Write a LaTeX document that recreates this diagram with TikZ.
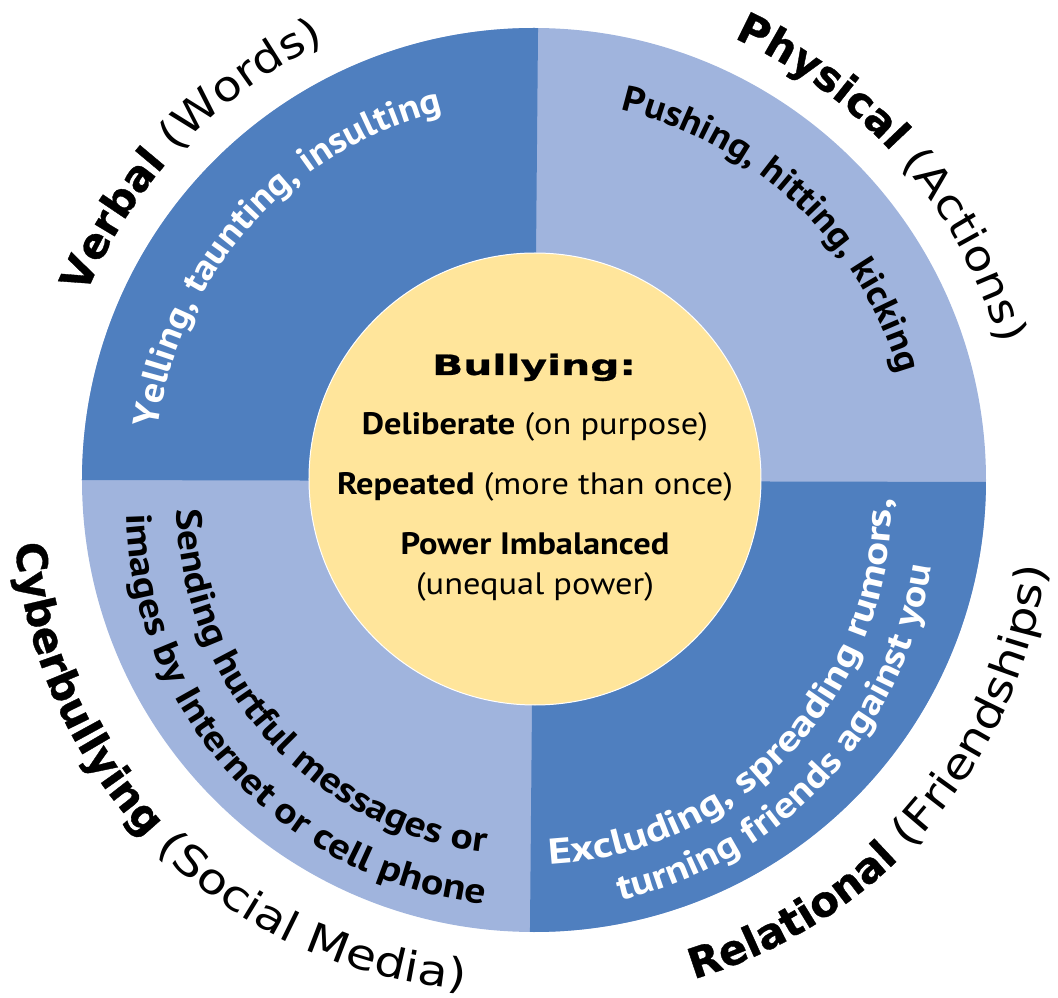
\documentclass[tikz,border=0pt]{standalone}
\usepackage{fontspec}
\setmainfont{PT Sans}
\newfontfamily\Etendue{DejaVu Sans}
\newfontfamily\Corps{PT Sans}
\newfontfamily\Centre{PT Sans}[FakeStretch=1.11]
\usetikzlibrary{decorations.text}
\definecolor{BleuFonce}{RGB}{79,127,191}
\definecolor{BleuClair}{RGB}{160,180,221}
\definecolor{Jaune}{RGB}{255,229,155}
\tikzset{
  arctexte/.style={decorate,decoration={text along path,text align=center,text={#1}}},
  ligne/.style={anchor=base,font=\Centre\fontsize{31}{37}\selectfont}
}
\begin{document}
\begin{tikzpicture}[x=1pt,y=1pt]
\useasboundingbox (-534,-518) rectangle (524,480);

    %Rayon du disque et du cercle central
    \def \Rext {452}
    \def \Rint {226}
    %Polices des textes courbes (argument : etirement)
    \def \Titre {\Etendue\bfseries\fontsize{42}{50}\selectfont\addfontfeatures{FakeBold=0.8}}
    \def \Sous #1{\Etendue\mdseries\fontsize{42}{50}\selectfont\addfontfeatures{FakeStretch=#1}}
    \def \Gras #1{\Corps\bfseries\fontsize{36}{42}\selectfont\addfontfeatures{FakeStretch=#1}}

% disque et quartiers
\fill[BleuClair] (0,0) circle (\Rext);
\begin{scope}
    \clip (0,0) circle (\Rext);
    \fill[BleuFonce] (0,-1) -- (4.2,470) -- (-470,470) -- (-470,0) -- cycle;
    \fill[BleuFonce] (0,-1) -- (470,-2) -- (470,-470) -- (-4.2,-470) -- cycle;
\end{scope}

% cercle central
\fill[Jaune,draw=white,line width=1pt] (1,1) circle (\Rint);
\node[anchor=base] (titre) at (0,105)
    {\Etendue\bfseries\fontsize{28}{34}\selectfont\addfontfeatures{FakeStretch=1.46,FakeBold=0.8}Bullying:};
\node[ligne] (delib) at (1,45) {\textbf{Deliberate} (on purpose)};
\node[ligne] (repet) at (1,-15) {\textbf{Repeated} (more than once)};
\node[ligne] (pouvoir) at (1,-75) {\textbf{Power Imbalanced}};
\node[ligne] (inegal) at (1,-115) {(unequal power)};

% textes des quartiers (haut : sens horaire)
\path[arctexte={|\Gras{1.10}|Yelling, taunting, insulting},decoration={text color=white}]
    (213:380) arc[start angle=213,end angle=63,radius=380];
\path[arctexte={|\Gras{1.08}|Pushing, hitting, kicking}]
    (121.5:380) arc[start angle=121.5,end angle=-28.5,radius=380];

% textes des quartiers (bas : sens trigo)
\begin{scope}[shift={(-7,-25)}]
    \path[arctexte={|\Gras{1.15}|Sending hurtful messages or}]
        (147:350) arc[start angle=147,end angle=297,radius=350];
    \path[arctexte={|\Gras{1.16}|images by Internet or cell phone}]
        (147.6:401) arc[start angle=147.6,end angle=297.6,radius=401];
\end{scope}
\begin{scope}[shift={(-3,-25)}]
    \path[arctexte={|\Gras{1.24}|Excluding, spreading rumors,},decoration={text color=white}]
        (242:360) arc[start angle=242,end angle=392,radius=360];
    \path[arctexte={|\Gras{1.17}|turning friends against you},decoration={text color=white}]
        (242:405) arc[start angle=242,end angle=392,radius=405];
\end{scope}

% titres autour du disque
\path[arctexte={|\Titre|Verbal |\Sous{1.12}|(Words)}]
    (206.5:485) arc[start angle=206.5,end angle=66.5,radius=485];
\path[arctexte={|\Titre|Physical |\Sous{1.12}|(Actions)}]
    (110.9:485) arc[start angle=110.9,end angle=-29.1,radius=485];
\begin{scope}[shift={(-36,-26)}]
    \path[arctexte={|\Titre|Cyberbullying |\Sous{1.17}|(Social Media)}]
        (155.3:484) arc[start angle=155.3,end angle=295.3,radius=484];
\end{scope}
\begin{scope}[shift={(17,-20)}]
    \path[arctexte={|\Titre|Relational |\Sous{1.17}|(Friendships)}]
        (249.5:500) arc[start angle=249.5,end angle=389.5,radius=500];
\end{scope}

\end{tikzpicture}
\end{document}
